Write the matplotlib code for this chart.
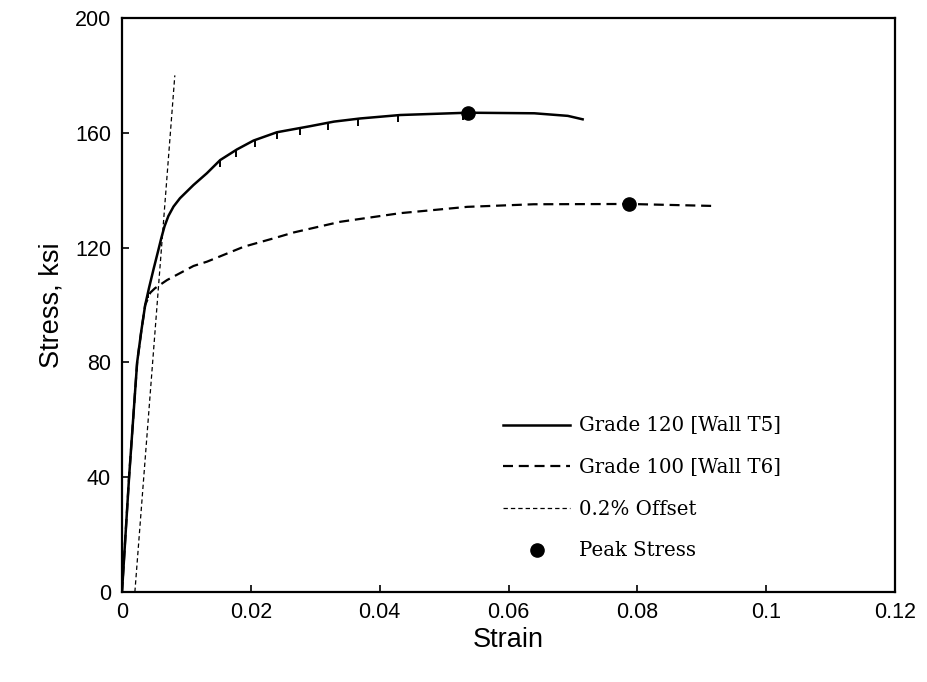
import matplotlib
matplotlib.use("Agg")
import matplotlib.pyplot as plt

# Grade 120 [Wall T5]
g120_strain = [0, 0.0011, 0.00235, 0.0030, 0.0036, 0.0042, 0.0049, 0.00565, 0.0061,
               0.0066, 0.0072, 0.0080, 0.0090, 0.01109, 0.01317, 0.01524, 0.01784,
               0.02042, 0.02406, 0.0292, 0.0329, 0.0370, 0.0432, 0.0537, 0.0640,
               0.0692, 0.0715]
g120_stress = [0, 40, 80, 91.0, 100.0, 106.0, 112.5, 119.2, 123.3,
               127.4, 131.0, 134.3, 137.2, 141.8, 145.9, 150.5, 154.2,
               157.3, 160.2, 162.3, 163.9, 165.0, 166.2, 167.0, 166.8,
               165.9, 164.7]

# small glitches hanging off the Grade 120 curve
glitch_strain = [0.0041, 0.0152, 0.0177, 0.0207, 0.0240, 0.0277, 0.0319, 0.0367, 0.0429, 0.0529]
glitch_stress = [105.0, 150.5, 154.1, 157.5, 160.2, 161.7, 163.4, 164.9, 166.2, 167.0]

# Grade 100 [Wall T6]
g100_strain = [0, 0.0011, 0.00235, 0.0030, 0.0036, 0.0044, 0.0051, 0.0070, 0.0111, 0.0132,
               0.0189, 0.0235, 0.0267, 0.0339, 0.0432, 0.0536, 0.0639, 0.0787, 0.0920]
g100_stress = [0, 40, 80, 91.0, 100.0, 104.3, 105.8, 108.7, 113.6, 115.1,
               120.3, 123.2, 125.3, 129.0, 132.0, 134.2, 135.1, 135.2, 134.5]

# 0.2% offset line
offset_strain = [0.002, 0.0082]
offset_stress = [0, 180]

# peak stress points
peak_strain = [0.0537, 0.0787]
peak_stress = [167.0, 135.2]

fig = plt.figure(figsize=(9.27, 6.82), dpi=100)
ax = fig.add_axes([0.1316, 0.132, 0.834, 0.8416])

ax.plot(g120_strain, g120_stress, color="black", lw=1.8, label="Grade 120 [Wall T5]")
ax.plot(glitch_strain, glitch_stress, ls="none", marker=3, ms=5, mew=1.4, color="black")
ax.plot(g100_strain, g100_stress, color="black", lw=1.6, dashes=(4.5, 2.6),
        label="Grade 100 [Wall T6]")
ax.plot(offset_strain, offset_stress, color="black", lw=0.9, dashes=(3.5, 2.4),
        label="0.2% Offset")
ax.plot(peak_strain, peak_stress, ls="none", marker="o", ms=9.5, color="black",
        label="Peak Stress")

ax.set_xlim(0, 0.12)
ax.set_ylim(0, 200)
ax.set_xticks([0, 0.02, 0.04, 0.06, 0.08, 0.1, 0.12])
ax.set_xticklabels(["0", "0.02", "0.04", "0.06", "0.08", "0.1", "0.12"])
ax.set_yticks([0, 40, 80, 120, 160, 200])

for s in ax.spines.values():
    s.set_linewidth(1.6)
ax.tick_params(direction="in", length=5, width=1.2, labelsize=15.5,
               top=False, right=False)
ax.tick_params(axis="x", pad=7)
ax.tick_params(axis="y", pad=8)
for lab in ax.get_xticklabels() + ax.get_yticklabels():
    lab.set_family("Liberation Sans")

ax.set_xlabel("Strain", fontsize=19.5, family="Liberation Sans", labelpad=3)
ax.set_ylabel("Stress, ksi", fontsize=19.5, family="Liberation Sans", labelpad=7)

ax.legend(loc="lower left", bbox_to_anchor=(0.47, 0.024), frameon=False,
          prop={"family": "DejaVu Serif", "size": 14.2},
          handlelength=3.4, handletextpad=0.45, labelspacing=1.15)

fig.savefig("out.png", dpi=100)
